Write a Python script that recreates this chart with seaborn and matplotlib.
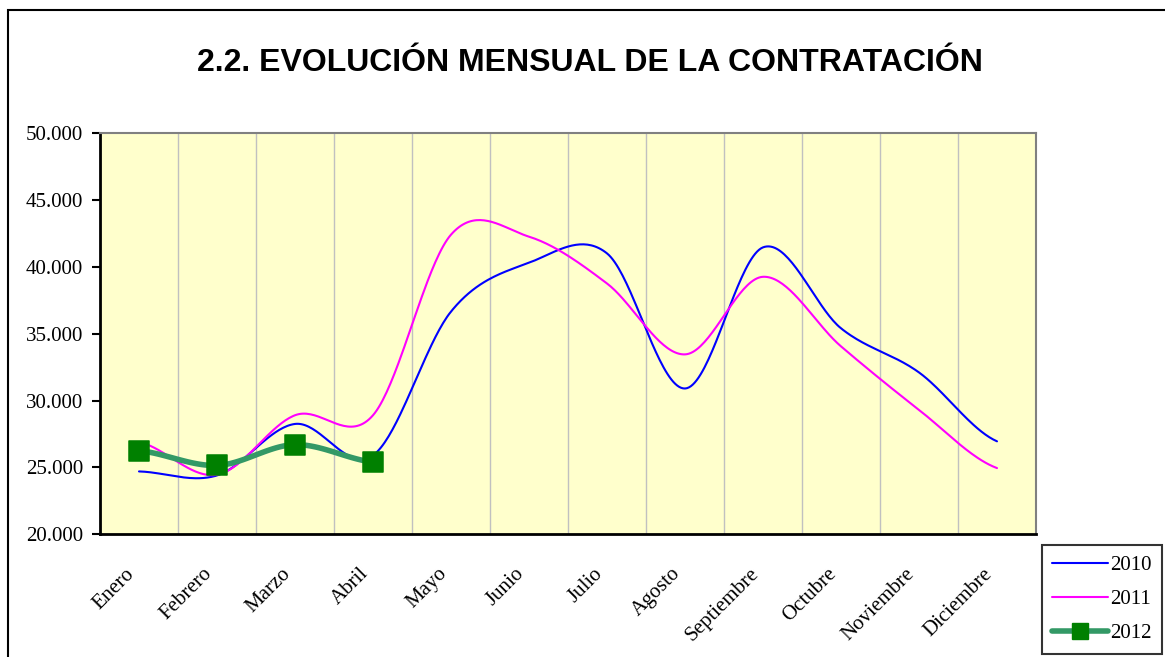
import numpy as np
import pandas as pd
import matplotlib
matplotlib.use("Agg")
import matplotlib.pyplot as plt
from matplotlib.lines import Line2D
from matplotlib.patches import Rectangle
from matplotlib.ticker import FuncFormatter, MultipleLocator
from matplotlib.transforms import ScaledTranslation
import seaborn as sns

# ----------------------------
# Data
# ----------------------------
meses = ["Enero", "Febrero", "Marzo", "Abril", "Mayo", "Junio", "Julio",
         "Agosto", "Septiembre", "Octubre", "Noviembre", "Diciembre"]
v2010 = [24700, 24400, 28250, 25900, 36650, 40300, 41000, 30900, 41450, 35400, 32100, 26950]
v2011 = [26900, 24450, 28900, 28900, 42400, 42250, 38750, 33450, 39250, 34050, 29300, 24950]
v2012 = [26250, 25150, 26700, 25400]


def smooth(values, steps=40):
    # Excel-style smoothed line (Catmull-Rom through the monthly points)
    p = np.asarray(values, dtype=float)
    ext = np.concatenate([[p[0]], p, [p[-1]]])
    xs, ys = [], []
    for i in range(len(p) - 1):
        p0, p1, p2, p3 = ext[i], ext[i + 1], ext[i + 2], ext[i + 3]
        m1, m2 = (p2 - p0) / 2, (p3 - p1) / 2
        t = np.linspace(0, 1, steps, endpoint=False)
        h00 = 2 * t**3 - 3 * t**2 + 1
        h10 = t**3 - 2 * t**2 + t
        h01 = -2 * t**3 + 3 * t**2
        h11 = t**3 - t**2
        xs.extend(i + t)
        ys.extend(h00 * p1 + h10 * m1 + h01 * p2 + h11 * m2)
    xs.append(len(p) - 1)
    ys.append(p[-1])
    return pd.DataFrame({"x": xs, "y": ys})


sns.set_theme(style="white")
plt.rcParams["font.family"] = ["Liberation Serif", "DejaVu Serif"]
plt.rcParams["text.color"] = "black"
plt.rcParams["xtick.color"] = "black"
plt.rcParams["ytick.color"] = "black"

fig = plt.figure(figsize=(11.65, 6.57), dpi=100)
ax = fig.add_axes([100 / 1165, 1 - 534.3 / 657, 936 / 1165, 401.3 / 657])
ax.set_facecolor("#FFFFCC")

# outer chart border (right and bottom edges fall outside the picture)
fig.patches.append(Rectangle((8 / 1165, -0.05), 1.0, 1.05 - 10 / 657, transform=fig.transFigure,
                             fill=False, edgecolor="black", linewidth=1.5))

sns.lineplot(data=smooth(v2010), x="x", y="y", ax=ax, color="#0000FF", linewidth=1.5, sort=False)
sns.lineplot(data=smooth(v2011), x="x", y="y", ax=ax, color="#FF00FF", linewidth=1.5, sort=False)
sns.lineplot(data=smooth(v2012), x="x", y="y", ax=ax, color="#339966", linewidth=4, sort=False)
df12 = pd.DataFrame({"x": range(len(v2012)), "y": v2012})
sns.scatterplot(data=df12, x="x", y="y", ax=ax, marker="s", s=190, color="#008000",
                edgecolor="#008000", zorder=5)

ax.set_xlim(-0.5, len(meses) - 0.5)
ax.set_ylim(20000, 50000)
ax.set_xticks(range(len(meses)))
ax.set_xticklabels([])
# month labels: rotated, ending just left of and below each category centre
shift = ScaledTranslation(-14 / 100, -30 / 100, fig.dpi_scale_trans)
for i, mes in enumerate(meses):
    ax.text(i, 0, mes, transform=ax.get_xaxis_transform() + shift, rotation=45,
            ha="right", va="top", rotation_mode="anchor", fontsize=15)
ax.xaxis.set_minor_locator(MultipleLocator(1, offset=0.5))
ax.grid(axis="x", which="minor", color="#C0C0C0", linewidth=1)
ax.grid(axis="y", visible=False)
ax.tick_params(axis="x", which="both", length=0)
ax.yaxis.set_major_locator(MultipleLocator(5000))
ax.yaxis.set_major_formatter(FuncFormatter(lambda v, _: f"{v:,.0f}".replace(",", ".")))
ax.tick_params(axis="y", labelsize=15, length=6, width=1.5, direction="out", left=True,
               color="black", pad=6)
ax.set_xlabel("")
ax.set_ylabel("")

for side in ["left", "bottom"]:
    ax.spines[side].set_color("black")
    ax.spines[side].set_linewidth(2)
for side in ["top", "right"]:
    ax.spines[side].set_color("#808080")
    ax.spines[side].set_linewidth(1.5)

fig.text(590 / 1165, 1 - 63 / 657, "2.2. EVOLUCIÓN MENSUAL DE LA CONTRATACIÓN",
         ha="center", va="center", fontsize=23, fontweight="bold", color="black",
         family=["Liberation Sans", "DejaVu Sans"])

handles = [
    Line2D([], [], color="#0000FF", linewidth=1.5),
    Line2D([], [], color="#FF00FF", linewidth=1.5),
    Line2D([], [], color="#339966", linewidth=4, marker="s", markersize=12,
           markerfacecolor="#008000", markeredgecolor="#008000"),
]
leg = fig.legend(handles, ["2010", "2011", "2012"], loc="upper left",
                 bbox_to_anchor=(1042 / 1165, 1 - 545 / 657), fontsize=15,
                 frameon=True, fancybox=False, edgecolor="black", handlelength=2.65,
                 handletextpad=0.1, labelspacing=0.7, borderaxespad=0, borderpad=0.5)
leg.get_frame().set_linewidth(1.5)

fig.savefig("out.png", dpi=100, facecolor="white")
